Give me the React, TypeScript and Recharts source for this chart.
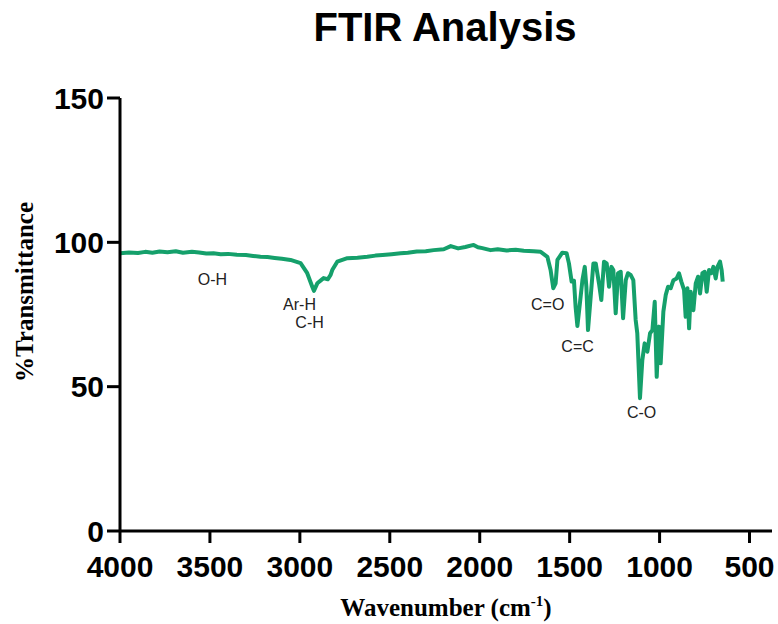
import React from "react"
import {
  LineChart,
  Line,
  XAxis,
  YAxis,
  ReferenceDot,
} from "recharts"

// spectrum (wavenumber in cm-1, % transmittance)
const wavenumbers = [
  4000, 3950, 3900, 3860, 3820, 3780, 3736, 3690, 3650, 3600, 3560, 3520, 3480,
  3440, 3400, 3350, 3300, 3260, 3219, 3180, 3140, 3100, 3052, 2996,
  2959, 2931, 2922, 2903, 2868, 2845, 2829, 2820, 2792, 2736, 2680, 2625, 2580,
  2540, 2490, 2440, 2400, 2350, 2300, 2256, 2200, 2161, 2120, 2080, 2034, 2010,
  1985, 1940, 1900, 1850, 1800, 1755, 1700, 1661, 1624, 1606, 1591, 1578, 1568,
  1541, 1517, 1504, 1489, 1476, 1467,
  1457, 1443, 1429, 1416, 1407, 1398, 1383, 1368, 1355, 1337, 1324, 1309, 1294,
  1281, 1268, 1257, 1244, 1231, 1216, 1203, 1188, 1176, 1161, 1146, 1133, 1124,
  1109, 1096, 1083, 1068, 1053, 1040, 1027, 1016, 1003, 994, 979, 966, 953, 938,
  923, 905, 892, 879, 864, 855, 845, 836, 827, 812, 799, 786, 775, 762, 749, 738,
  725, 712, 701, 688, 678, 664, 655, 649,
]
const transmittance = [
  96.2, 96.5, 96.3, 96.7, 96.4, 96.8, 96.6, 96.9, 96.4, 96.7, 96.5, 96.1, 96.2,
  95.9, 96.0, 95.7, 95.6, 95.3, 95.0, 94.9, 94.6, 94.3, 93.9, 92.8,
  89.3, 84.6, 83.2, 85.8, 87.6, 87.2, 88.7, 90.4, 93.3, 94.5, 94.7, 95.0, 95.4,
  95.6, 95.9, 96.2, 96.4, 96.8, 96.9, 97.3, 97.6, 98.7, 97.9, 98.4, 99.1, 98.3,
  98.0, 97.3, 97.6, 97.2, 97.4, 97.1, 96.9, 96.7, 95.0, 90.4, 84.1, 85.8, 93.9,
  96.4, 96.2, 92.7, 86.4, 86.7, 77.7,
  71.0, 78.9, 86.9, 91.5, 84.6, 69.6, 81.2, 92.7, 92.7, 85.8, 80.0, 93.3, 92.7,
  84.6, 91.5, 90.4, 75.4, 89.3, 89.8, 73.7, 86.9, 89.3, 88.7, 86.9, 73.1, 68.5,
  46.0, 59.2, 65.0, 62.1, 68.5, 69.6, 79.4, 53.4, 70.8, 58.1, 76.0, 81.7, 84.6,
  84.1, 86.9, 87.5, 89.3, 86.4, 83.5, 74.2, 84.1, 70.2, 82.9, 76.5, 85.8, 88.1,
  82.3, 89.3, 89.8, 82.9, 90.4, 89.3, 91.5, 87.5, 91.5, 93.3, 90.4, 86.4,
]

const xTicks = [4000, 3500, 3000, 2500, 2000, 1500, 1000, 500]
const yTicks = [0, 50, 100, 150]

// band annotations
const bandLabels = ["O-H", "Ar-H", "C-H", "C=O", "C=C", "C-O"]
const bandX = [3486, 3002, 2946, 1622, 1456, 1100]
const bandY = [87.3, 78.6, 72.4, 78.6, 64.1, 41.2]

const data = wavenumbers.map((wn, i) => ({ wn, t: transmittance[i] }))

const GREEN = "#15a06b"
const SERIF = "'Liberation Serif', 'Times New Roman', serif"

const YLabel = () => (
  <text
    x={24}
    y={292}
    transform="rotate(-90 24 292)"
    textAnchor="middle"
    dominantBaseline="central"
    fontFamily={SERIF}
    fontWeight="bold"
    fontSize={25}
    fill="#000"
  >
    %Transmittance
  </text>
)

const XLabel = () => (
  <text
    x={446}
    y={616}
    textAnchor="middle"
    fontFamily={SERIF}
    fontWeight="bold"
    fontSize={25}
    fill="#000"
  >
    Wavenumber (cm
    <tspan dy={-10} fontSize={15}>-1</tspan>
    <tspan dy={10}>)</tspan>
  </text>
)

export default function App() {
  return (
    <div
      style={{
        position: "absolute",
        left: 0,
        top: 0,
        width: 778,
        height: 624,
        background: "#fff",
        fontFamily: "'Liberation Sans', Arial, sans-serif",
      }}
    >
      <div
        style={{
          position: "absolute",
          left: 245,
          top: 5,
          width: 400,
          textAlign: "center",
          fontSize: 40,
          fontWeight: "bold",
          color: "#000",
        }}
      >
        FTIR Analysis
      </div>
      <LineChart
        width={778}
        height={624}
        data={data}
        margin={{ top: 98, right: 6, bottom: 43, left: 50 }}
      >
        <XAxis
          type="number"
          dataKey="wn"
          domain={[375, 4000]}
          reversed
          allowDataOverflow
          ticks={xTicks}
          height={50}
          tickSize={12}
          tickMargin={13}
          axisLine={{ stroke: "#000", strokeWidth: 3 }}
          tickLine={{ stroke: "#000", strokeWidth: 3 }}
          tick={{ fill: "#000", fontSize: 30, fontWeight: "bold" }}
          label={<XLabel />}
        />
        <YAxis
          type="number"
          domain={[0, 150]}
          ticks={yTicks}
          width={70}
          tickSize={13}
          tickMargin={3}
          axisLine={{ stroke: "#000", strokeWidth: 3 }}
          tickLine={{ stroke: "#000", strokeWidth: 3 }}
          tick={{ fill: "#000", fontSize: 30, fontWeight: "bold" }}
          label={<YLabel />}
        />
        <Line
          type="linear"
          dataKey="t"
          stroke={GREEN}
          strokeWidth={4}
          strokeLinejoin="round"
          dot={false}
          isAnimationActive={false}
        />
        {bandLabels.map((txt, i) => (
          <ReferenceDot
            key={txt}
            x={bandX[i]}
            y={bandY[i]}
            r={0}
            fill="none"
            stroke="none"
            label={{
              value: txt,
              position: "center",
              fill: "#222",
              fontSize: 16,
            }}
          />
        ))}
      </LineChart>
    </div>
  )
}
